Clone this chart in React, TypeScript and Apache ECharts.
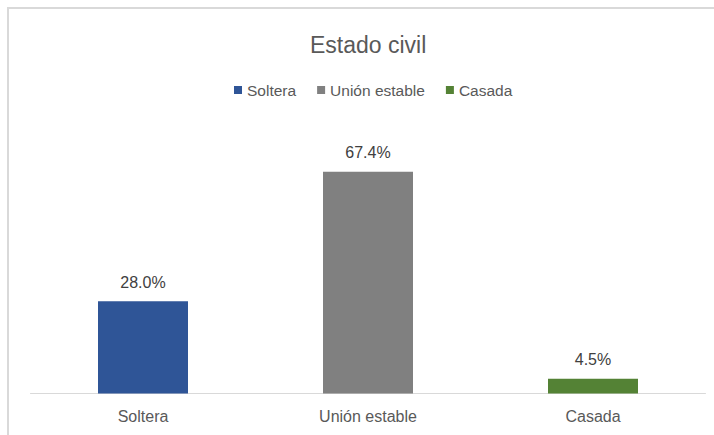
import React, { useEffect, useRef } from "react";
import * as echarts from "echarts";

const categories = ["Soltera", "Unión estable", "Casada"];
const seriesNames = ["Soltera", "Unión estable", "Casada"];
const values = [28.0, 67.4, 4.5];
const colors = ["#2F5597", "#808080", "#548235"];

export default function App() {
  const ref = useRef<HTMLDivElement>(null);
  useEffect(() => {
    if (!ref.current) return;
    const chart = echarts.init(ref.current, undefined, { renderer: "svg" });
    const font = "'Liberation Sans', Arial, sans-serif";
    const series = seriesNames.map((name, i) => ({
      name,
      type: "bar" as const,
      barWidth: 90,
      barGap: "-100%",
      itemStyle: { color: colors[i] },
      label: {
        show: true,
        position: "top" as const,
        distance: 11,
        formatter: (p: any) => p.value.toFixed(1) + "%",
        color: "#404040",
        fontSize: 16,
        fontFamily: font,
      },
      data: categories.map((_, j) => (j === i ? values[i] : "-")),
    }));
    chart.setOption({
      animation: false,
      backgroundColor: "#ffffff",
      title: {
        text: "Estado civil",
        left: 305,
        top: 28,
        textStyle: { color: "#595959", fontSize: 23, fontWeight: "normal", fontFamily: font },
      },
      legend: {
        left: 229,
        top: 77,
        icon: "rect",
        itemWidth: 8,
        itemHeight: 8,
        itemGap: 21,
        textStyle: { color: "#595959", fontSize: 15.5, fontFamily: font },
        data: seriesNames,
      },
      grid: { left: 30.5, right: 8.5, top: 130.2, bottom: 41.5, containLabel: false },
      xAxis: {
        type: "category",
        data: categories,
        axisLine: { lineStyle: { color: "#d9d9d9", width: 1 } },
        axisTick: { show: false },
        axisLabel: { color: "#595959", fontSize: 16, fontFamily: font, margin: 15 },
      },
      yAxis: {
        type: "value",
        min: 0,
        max: 80,
        show: false,
      },
      graphic: [
        {
          type: "rect",
          shape: { x: 8, y: 8, width: 720, height: 440 },
          style: { fill: "none", stroke: "#d9d9d9", lineWidth: 2 },
          silent: true,
        },
      ],
      series,
    });
    return () => chart.dispose();
  }, []);
  return (
    <div
      ref={ref}
      style={{ position: "absolute", left: 0, top: 0, width: 714, height: 435 }}
    />
  );
}
